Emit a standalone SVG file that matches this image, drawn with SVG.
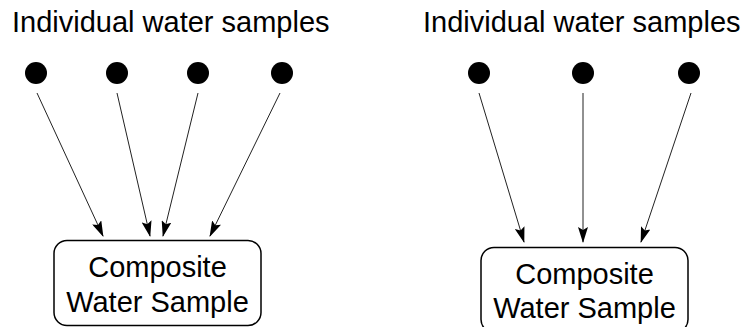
<svg xmlns="http://www.w3.org/2000/svg" width="753" height="327" viewBox="0 0 753 327">
<style>
  text { font-family: "Liberation Sans", Arial, sans-serif; font-size: 29px; fill: #000; }
  .dot { fill: #000; }
  .box { fill: #fff; stroke: #000; stroke-width: 1.5; }
  .edge { stroke: #222; stroke-width: 1; fill: none; marker-end: url(#arr); }
</style>
<defs>
  <marker id="arr" viewBox="0 0 16 10" refX="15" refY="5" markerWidth="16" markerHeight="10" markerUnits="userSpaceOnUse" orient="auto">
    <path d="M0,0 L16,5 L0,10 L3,5 Z" fill="#000"/>
  </marker>
</defs>
<rect width="753" height="327" fill="#fff"/>
<g id="title-left"><text x="12" y="32">Individual water samples</text></g>
<g id="title-right"><text x="423" y="32">Individual water samples</text></g>

<g id="sample-L1"><circle class="dot" cx="36" cy="73" r="11"/></g>
<g id="sample-L2"><circle class="dot" cx="117" cy="73" r="11"/></g>
<g id="sample-L3"><circle class="dot" cx="198" cy="73" r="11"/></g>
<g id="sample-L4"><circle class="dot" cx="282" cy="73" r="11"/></g>
<g id="sample-R1"><circle class="dot" cx="479" cy="73" r="11"/></g>
<g id="sample-R2"><circle class="dot" cx="583" cy="73" r="11"/></g>
<g id="sample-R3"><circle class="dot" cx="689" cy="73" r="11"/></g>

<g id="connectors">
  <line class="edge" x1="37" y1="93" x2="103" y2="236"/>
  <line class="edge" x1="117" y1="93" x2="150" y2="236"/>
  <line class="edge" x1="198" y1="93" x2="163" y2="236"/>
  <line class="edge" x1="280" y1="93" x2="210" y2="236"/>
  <line class="edge" x1="479" y1="93" x2="524" y2="242"/>
  <line class="edge" x1="583" y1="93" x2="583" y2="242"/>
  <line class="edge" x1="691" y1="93" x2="641" y2="242"/>
</g>

<g id="composite-left">
  <rect class="box" x="54" y="240.5" width="207" height="85" rx="13" ry="13"/>
  <text x="157.5" y="277" text-anchor="middle">Composite</text>
  <text x="157.5" y="312" text-anchor="middle">Water Sample</text>
</g>
<g id="composite-right">
  <rect class="box" x="481" y="247.5" width="207" height="85" rx="13" ry="13"/>
  <text x="584.5" y="284" text-anchor="middle">Composite</text>
  <text x="584.5" y="318" text-anchor="middle">Water Sample</text>
</g>
</svg>
